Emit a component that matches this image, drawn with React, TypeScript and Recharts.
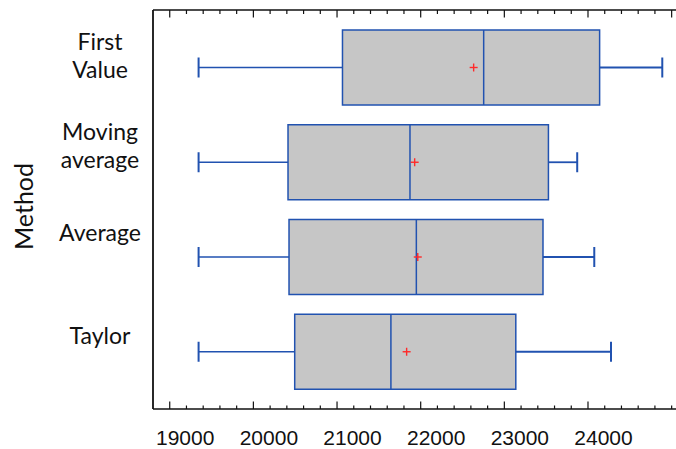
import React from 'react';
import { ComposedChart, Bar, XAxis, YAxis } from 'recharts';

// ---- data ----
const categories = ['First Value', 'Moving average', 'Average', 'Taylor'];
const minValues = [19345, 19345, 19345, 19345];
const q1Values = [21065, 20414, 20426, 20494];
const medianValues = [22753, 21872, 21948, 21644];
const q3Values = [24139, 23527, 23462, 23137];
const maxValues = [24888, 23871, 24075, 24275];
const meanValues = [22633, 21928, 21965, 21832];

const xTicks = [
  19000, 19200, 19400, 19600, 19800,
  20000, 20200, 20400, 20600, 20800,
  21000, 21200, 21400, 21600, 21800,
  22000, 22200, 22400, 22600, 22800,
  23000, 23200, 23400, 23600, 23800,
  24000, 24200, 24400, 24600, 24800,
  25000,
];
const xTickLabels = [19000, 20000, 21000, 22000, 23000, 24000];
const xDomain = [18800, 25052];

const data = categories.map((method, i) => ({
  method,
  min: minValues[i],
  q1: q1Values[i],
  median: medianValues[i],
  q3: q3Values[i],
  max: maxValues[i],
  mean: meanValues[i],
  range: [minValues[i], maxValues[i]],
}));

// ---- styles ----
const BLUE = '#2152b0';
const FILL = '#c6c6c6';
const RED = '#ff2a2a';
const AXIS = '#111111';
const LABEL_FONT = 'Lato, "Open Sans", sans-serif';
const TICK_FONT = '"Liberation Sans", Arial, sans-serif';

const labelLines: Record<string, string[]> = {
  'First Value': ['First', 'Value'],
  'Moving average': ['Moving', 'average'],
  Average: ['Average'],
  Taylor: ['Taylor'],
};
// baseline (single line) or mid-baseline (two lines) relative to the category centre
const labelShift: Record<string, number> = {
  'First Value': -3,
  'Moving average': -8,
  Average: -16,
  Taylor: -8,
};

function BoxShape(props: any) {
  const { x, y, width, height, payload } = props;
  const { min, q1, median, q3, max, mean } = payload;
  const px = (v: number) => x + ((v - min) / (max - min)) * width;
  const cy = y + height / 2;
  const xMin = px(min);
  const xQ1 = px(q1);
  const xMed = px(median);
  const xQ3 = px(q3);
  const xMax = px(max);
  const xMean = px(mean);
  const cap = 10;
  const m = 4;
  return (
    <g>
      <line x1={xMin} y1={cy} x2={xQ1} y2={cy} stroke={BLUE} strokeWidth={1.5} />
      <line x1={xQ3} y1={cy} x2={xMax} y2={cy} stroke={BLUE} strokeWidth={1.8} />
      <line x1={xMin} y1={cy - cap} x2={xMin} y2={cy + cap} stroke={BLUE} strokeWidth={2} />
      <line x1={xMax} y1={cy - cap} x2={xMax} y2={cy + cap} stroke={BLUE} strokeWidth={2} />
      <rect x={xQ1} y={y} width={xQ3 - xQ1} height={height} fill={FILL} stroke={BLUE} strokeWidth={1.5} />
      <line x1={xMed} y1={y} x2={xMed} y2={y + height} stroke={BLUE} strokeWidth={1.5} />
      <line x1={xMean - m} y1={cy} x2={xMean + m} y2={cy} stroke={RED} strokeWidth={1.4} />
      <line x1={xMean} y1={cy - m} x2={xMean} y2={cy + m} stroke={RED} strokeWidth={1.4} />
    </g>
  );
}

function BottomTick(props: any) {
  const { x, y, payload } = props;
  const v = payload.value as number;
  const major = xTickLabels.includes(v);
  return (
    <g>
      <line x1={x} y1={y} x2={x} y2={y - (major ? 7.5 : 3.5)} stroke={AXIS} strokeWidth={1.2} />
      {major && (
        <text x={x + 15.5} y={y + 36.2} textAnchor="middle" fontFamily={TICK_FONT} fontSize={21} fill="#111">
          {v}
        </text>
      )}
    </g>
  );
}

function TopTick(props: any) {
  const { x, y, payload } = props;
  const v = payload.value as number;
  const major = xTickLabels.includes(v) || v === 25000;
  return <line x1={x} y1={y} x2={x} y2={y + (major ? 7.5 : 4)} stroke={AXIS} strokeWidth={1.2} />;
}

function CategoryTick(props: any) {
  const { y, payload } = props;
  const label = payload.value as string;
  const lines = labelLines[label] || [label];
  const shift = labelShift[label] ?? 0;
  const lh = 27.8;
  const cx = 100;
  const firstBaseline = y + shift - ((lines.length - 1) * lh) / 2;
  return (
    <g>
      {lines.map((ln, i) => (
        <text
          key={i}
          x={cx}
          y={firstBaseline + i * lh}
          textAnchor="middle"
          fontFamily={LABEL_FONT}
          fontSize={23}
          fill="#111"
        >
          {ln}
        </text>
      ))}
    </g>
  );
}

function MethodLabel(props: any) {
  const vb = props.viewBox || { x: 0, y: 10, width: 153, height: 399 };
  const cx = 22.5;
  const cy = vb.y + vb.height / 2 - 3;
  return (
    <text
      x={cx}
      y={cy}
      transform={`rotate(-90, ${cx}, ${cy})`}
      textAnchor="middle"
      dominantBaseline="central"
      fontFamily={LABEL_FONT}
      fontSize={25}
      fill="#111"
    >
      Method
    </text>
  );
}

export default function App() {
  return (
    <div style={{ position: 'absolute', left: 0, top: 0, width: 676, height: 449, background: '#fff' }}>
      <ComposedChart
        width={676}
        height={449}
        data={data}
        layout="vertical"
        margin={{ top: 0, right: 0, bottom: 0, left: 0 }}
      >
        <XAxis
          type="number"
          dataKey="max"
          domain={xDomain}
          allowDataOverflow
          ticks={xTicks}
          interval={0}
          height={40}
          tickSize={0}
          tickMargin={0}
          tickLine={false}
          axisLine={{ stroke: AXIS, strokeWidth: 1.5 }}
          tick={<BottomTick />}
        />
        <XAxis
          xAxisId="top"
          orientation="top"
          type="number"
          domain={xDomain}
          allowDataOverflow
          ticks={xTicks}
          interval={0}
          height={10}
          tickSize={0}
          tickMargin={0}
          tickLine={false}
          axisLine={{ stroke: AXIS, strokeWidth: 1.5 }}
          tick={<TopTick />}
        />
        <YAxis
          type="category"
          dataKey="method"
          width={153}
          padding={{ top: 10, bottom: 10 }}
          tickSize={0}
          tickMargin={0}
          tickLine={false}
          interval={0}
          axisLine={{ stroke: AXIS, strokeWidth: 1.8 }}
          tick={<CategoryTick />}
          label={{ content: <MethodLabel /> }}
        />
        <Bar dataKey="range" barSize={75} shape={<BoxShape />} isAnimationActive={false} />
      </ComposedChart>
    </div>
  );
}
